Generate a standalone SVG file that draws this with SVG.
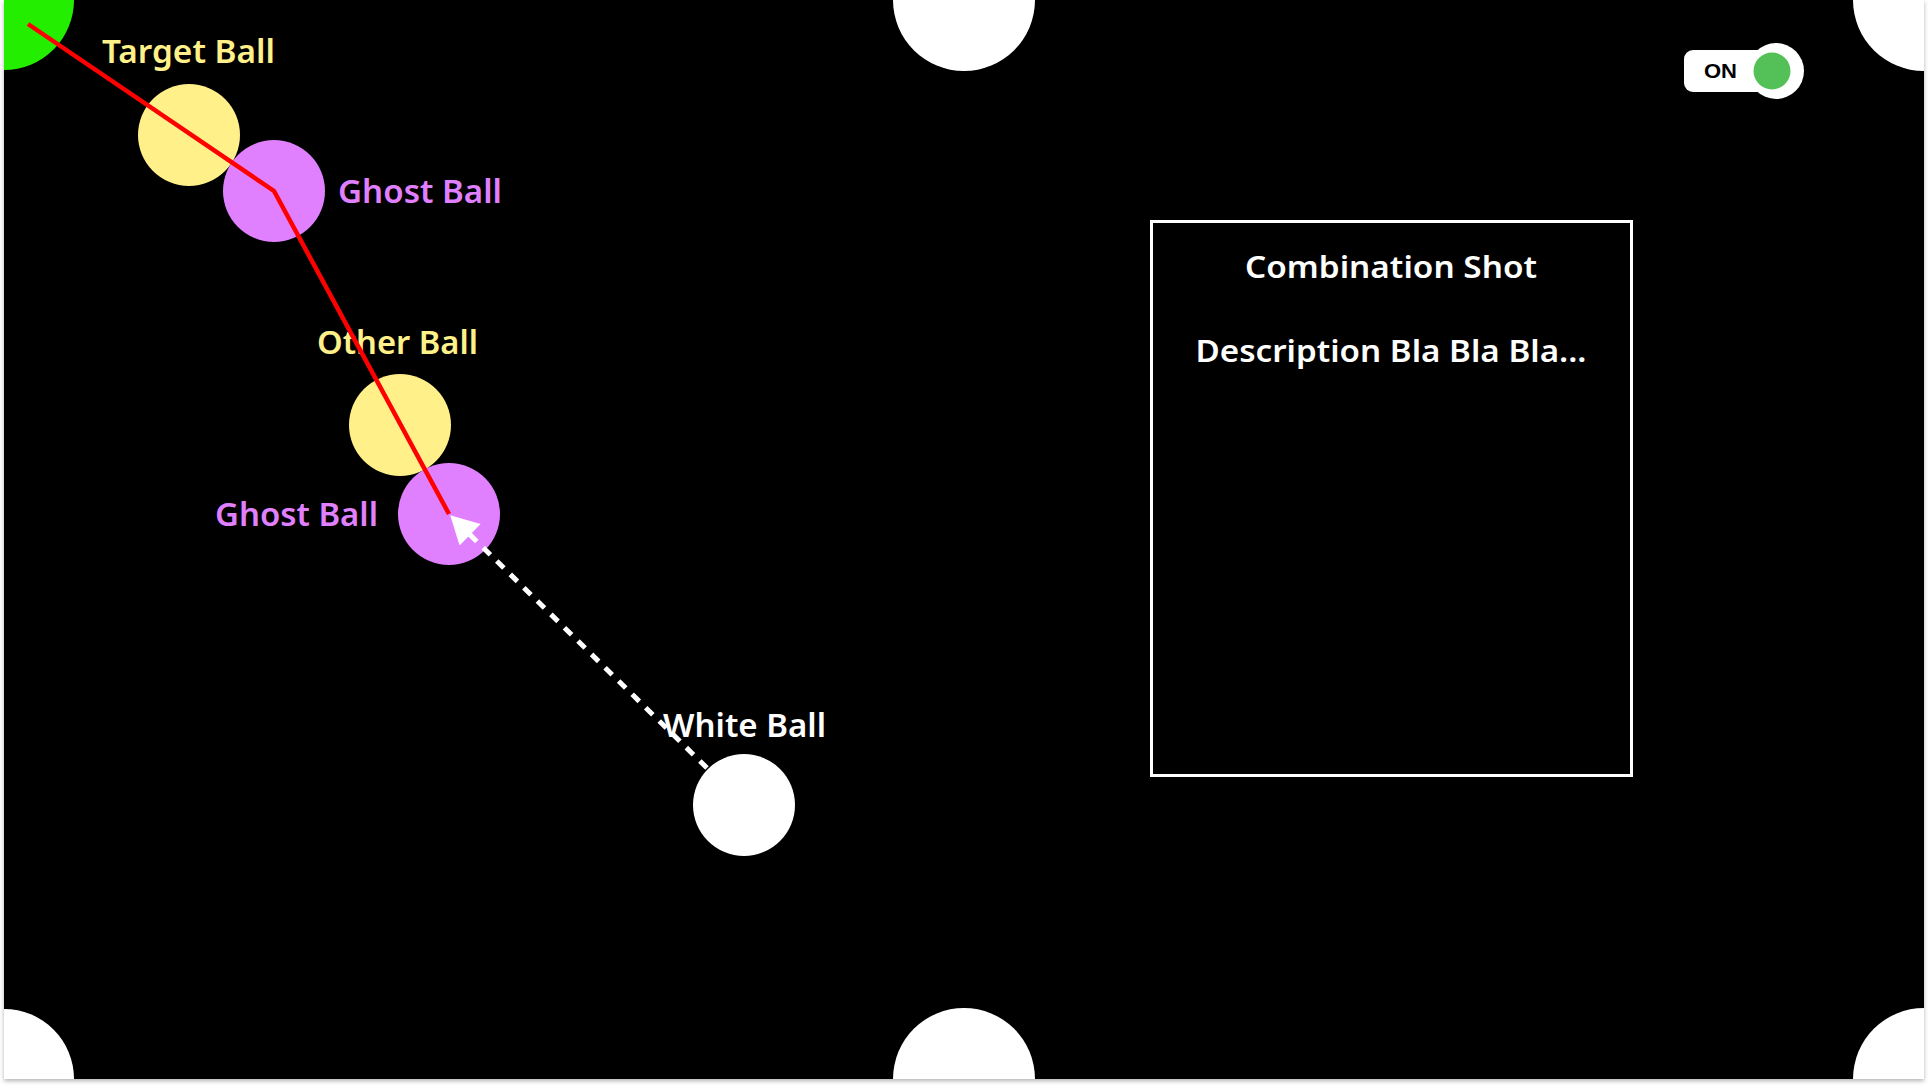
<svg xmlns="http://www.w3.org/2000/svg" width="1928" height="1088" viewBox="0 0 1928 1088">
  <defs>
    <style>
      .lbl { font-family: "Noto Sans", "Open Sans", sans-serif; font-weight: 600; font-size: 32px; }
      .yellow { fill: #FFF08A; }
      .purple { fill: #E080FF; }
      .white { fill: #FFFFFF; }
      .pocket { fill: #FFFFFF; }
      .box-text { font-family: "Noto Sans", "Open Sans", sans-serif; font-weight: 600; font-size: 30px; fill: #FFFFFF; text-anchor: middle; }
      .cue { stroke: #FF0000; stroke-width: 4.5; fill: none; stroke-linejoin: miter; }
      .aim { stroke: #FFFFFF; stroke-width: 5; fill: none; stroke-dasharray: 10 9; }
    </style>
    <clipPath id="tableClip">
      <rect x="4" y="0" width="1920" height="1079"/>
    </clipPath>
    <filter id="shadow" x="-5%" y="-5%" width="110%" height="110%">
      <feDropShadow dx="0" dy="2" stdDeviation="2" flood-color="#000" flood-opacity="0.3"/>
    </filter>
    <marker id="arrow" markerUnits="userSpaceOnUse" markerWidth="30" markerHeight="30" viewBox="0 0 26 28" refX="25" refY="14" orient="auto">
      <path d="M0,0 L26,14 L0,28 Z" fill="#FFFFFF"/>
    </marker>
  </defs>

  <rect x="0" y="0" width="1928" height="1088" fill="#FFFFFF"/>
  <rect id="table" x="4" y="0" width="1920" height="1079" fill="#000000" filter="url(#shadow)"/>

  <g id="pockets" clip-path="url(#tableClip)">
    <circle id="pocket-tl" cx="4" cy="0" r="70" fill="#24EE00"/>
    <circle id="pocket-tm" class="pocket" cx="964" cy="0" r="71"/>
    <circle id="pocket-tr" class="pocket" cx="1924" cy="0" r="71"/>
    <circle id="pocket-bl" class="pocket" cx="4" cy="1079" r="70"/>
    <circle id="pocket-bm" class="pocket" cx="964" cy="1079" r="71"/>
    <circle id="pocket-br" class="pocket" cx="1924" cy="1079" r="71"/>
  </g>

  <g id="target-ball">
    <circle class="yellow" cx="189" cy="135" r="51"/>
    <text class="lbl yellow" x="102" y="63" textLength="173" lengthAdjust="spacingAndGlyphs">Target Ball</text>
  </g>

  <g id="ghost-ball-1">
    <circle class="purple" cx="274" cy="191" r="51"/>
    <text class="lbl purple" x="338" y="203" textLength="164" lengthAdjust="spacingAndGlyphs">Ghost Ball</text>
  </g>

  <g id="other-ball">
    <circle class="yellow" cx="400" cy="425" r="51"/>
    <text class="lbl yellow" x="317" y="354" textLength="161" lengthAdjust="spacingAndGlyphs">Other Ball</text>
  </g>

  <g id="ghost-ball-2">
    <circle class="purple" cx="449" cy="514" r="51"/>
    <text class="lbl purple" x="215" y="526" textLength="163" lengthAdjust="spacingAndGlyphs">Ghost Ball</text>
  </g>

  <g id="white-ball">
    <circle class="white" cx="744" cy="805" r="51"/>
    <text class="lbl white" x="663" y="737" textLength="163" lengthAdjust="spacingAndGlyphs">White Ball</text>
  </g>

  <g id="info-box">
    <rect x="1151.5" y="221.5" width="480" height="554" fill="none" stroke="#FFFFFF" stroke-width="3"/>
    <text class="box-text" x="1391" y="278" textLength="292" lengthAdjust="spacingAndGlyphs">Combination Shot</text>
    <text class="box-text" x="1391" y="362" textLength="391" lengthAdjust="spacingAndGlyphs">Description Bla Bla Bla...</text>
  </g>

  <g id="toggle">
    <rect x="1684" y="50" width="90" height="42" rx="9" ry="9" fill="#FFFFFF"/>
    <circle cx="1776" cy="71" r="28" fill="#FFFFFF"/>
    <circle cx="1772" cy="71" r="18.5" fill="#53C058"/>
    <text x="1704" y="78" font-family="Liberation Sans, Arial, sans-serif" font-weight="bold" font-size="21" fill="#000000" textLength="33" lengthAdjust="spacingAndGlyphs">ON</text>
  </g>

  <g id="connectors">
    <polyline class="cue" points="28,24 274,191 449,514"/>
    <line class="aim" x1="707" y1="768" x2="451" y2="516" marker-end="url(#arrow)"/>
  </g>
</svg>
